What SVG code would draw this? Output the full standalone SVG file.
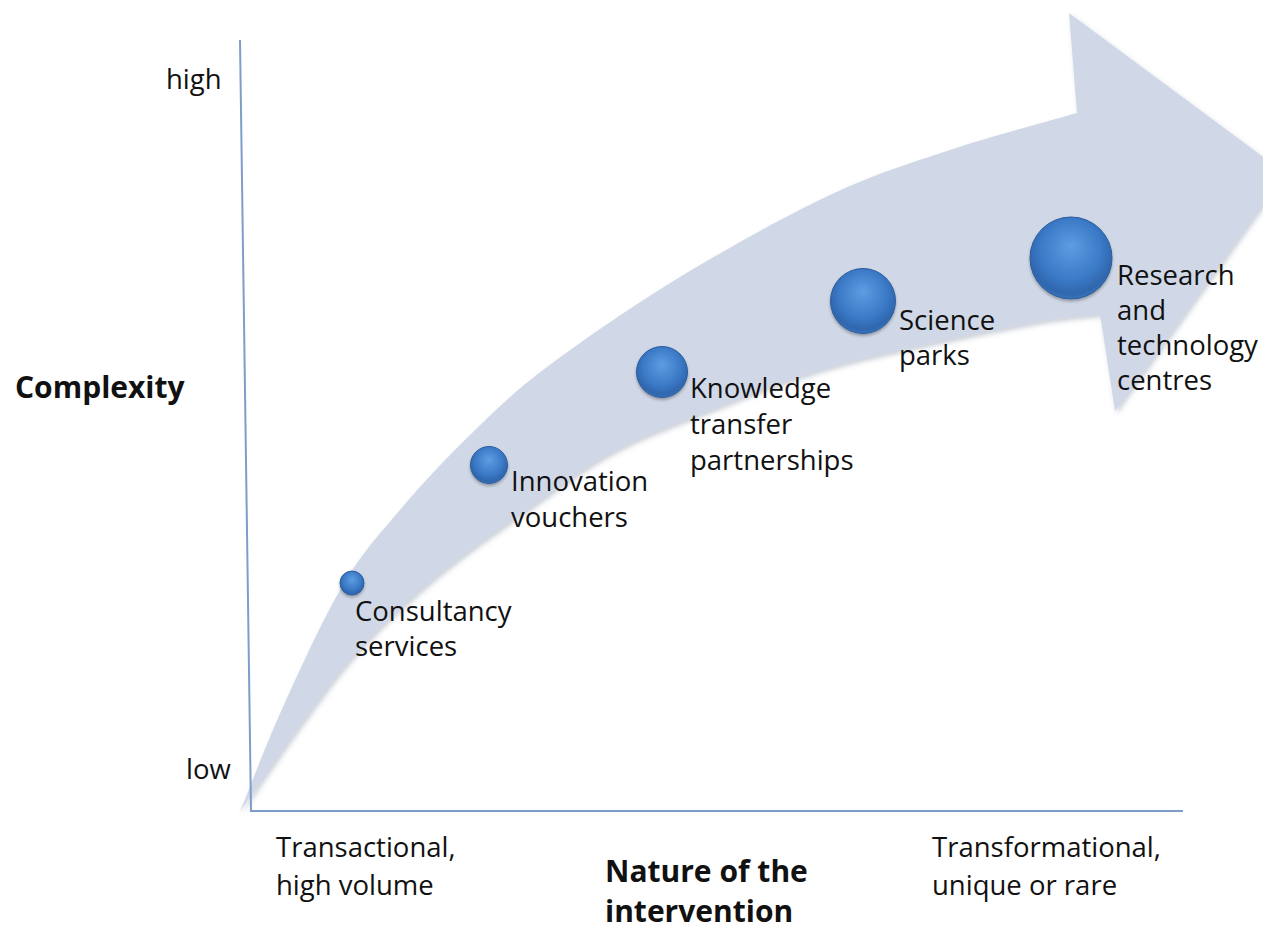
<svg xmlns="http://www.w3.org/2000/svg" width="1263" height="929" viewBox="0 0 1263 929">
  <style>
    .lbl { font-family: "Open Sans", "Liberation Sans", sans-serif; font-size: 27.5px; fill: #111; }
    .bold { font-family: "Open Sans", "Liberation Sans", sans-serif; font-size: 30px; font-weight: bold; fill: #111; }
    .axis { stroke: #7f9dc9; stroke-width: 2; fill: none; }
    .ball { fill: url(#ballGrad); stroke: #2c5d9c; stroke-width: 1; filter: url(#ballShadow); }
  </style>
  <defs>
    <radialGradient id="ballGrad" cx="50%" cy="42%" r="58%" fx="50%" fy="35%">
      <stop offset="0%" stop-color="#5e9de2"/>
      <stop offset="65%" stop-color="#3b79c6"/>
      <stop offset="90%" stop-color="#2f66ad"/>
      <stop offset="100%" stop-color="#3a74bb"/>
    </radialGradient>
    <filter id="ballShadow" x="-30%" y="-30%" width="160%" height="170%">
      <feDropShadow dx="0" dy="2" stdDeviation="1.5" flood-color="#000" flood-opacity="0.3"/>
    </filter>
    <filter id="arrowShadow" x="-5%" y="-5%" width="110%" height="110%">
      <feDropShadow dx="2" dy="3" stdDeviation="2.5" flood-color="#6a7890" flood-opacity="0.35"/>
    </filter>
  </defs>
  <rect width="1263" height="929" fill="#ffffff"/>

  <g id="arrow">
    <path fill="#d0d8e7" filter="url(#arrowShadow)" d="M240,812
      C247.2,794.5 265.8,744.8 283,707
      C300.2,669.2 323.5,617.8 343,585
      C362.5,552.2 378.8,535 400,510
      C421.2,485 445.5,458.8 470,435
      C494.5,411.2 512,393.3 547,367
      C582,340.7 632.8,305.7 680,277
      C727.2,248.3 785,216.2 830,195
      C875,173.8 908.8,163.7 950,150
      C991.2,136.3 1055.8,119.2 1077,113
      L1069,13 L1285,173 L1115,411 L1100,314
      C1086.7,315.8 1065,316.2 1020,325
      C975,333.8 885,351.5 830,367
      C775,382.5 726.7,403.7 690,418
      C653.3,432.3 635,439.3 610,453
      C585,466.7 568.3,480 540,500
      C511.7,520 470,548.3 440,573
      C410,597.7 383.3,622.7 360,648
      C336.7,673.3 320,697.7 300,725
      C280,752.3 250,797.5 240,812 Z"/>
  </g>

  <g id="axes">
    <path class="axis" d="M240,40 L251,811 L1183,811"/>
  </g>

  <g id="axis-labels">
    <text class="lbl" x="166" y="89">high</text>
    <text class="lbl" x="186" y="779">low</text>
    <text class="bold" x="15" y="398">Complexity</text>
    <text class="lbl" x="276" y="857">Transactional,</text>
    <text class="lbl" x="276" y="895">high volume</text>
    <text class="bold" x="605" y="882">Nature of the</text>
    <text class="bold" x="605" y="922">intervention</text>
    <text class="lbl" x="932" y="857">Transformational,</text>
    <text class="lbl" x="932" y="895">unique or rare</text>
  </g>

  <g id="node-consultancy">
    <circle class="ball" cx="352" cy="583" r="12"/>
    <text class="lbl" x="355" y="621">Consultancy</text>
    <text class="lbl" x="355" y="656">services</text>
  </g>

  <g id="node-innovation">
    <circle class="ball" cx="489" cy="465" r="18.5"/>
    <text class="lbl" x="511" y="491">Innovation</text>
    <text class="lbl" x="511" y="527">vouchers</text>
  </g>

  <g id="node-knowledge">
    <circle class="ball" cx="662" cy="372" r="25.5"/>
    <text class="lbl" x="690" y="398">Knowledge</text>
    <text class="lbl" x="690" y="434">transfer</text>
    <text class="lbl" x="690" y="470">partnerships</text>
  </g>

  <g id="node-science">
    <circle class="ball" cx="863" cy="301" r="32.5"/>
    <text class="lbl" x="899" y="330">Science</text>
    <text class="lbl" x="899" y="365">parks</text>
  </g>

  <g id="node-research">
    <circle class="ball" cx="1071" cy="258" r="41"/>
    <text class="lbl" x="1117" y="285">Research</text>
    <text class="lbl" x="1117" y="320">and</text>
    <text class="lbl" x="1117" y="355">technology</text>
    <text class="lbl" x="1117" y="390">centres</text>
  </g>
</svg>
